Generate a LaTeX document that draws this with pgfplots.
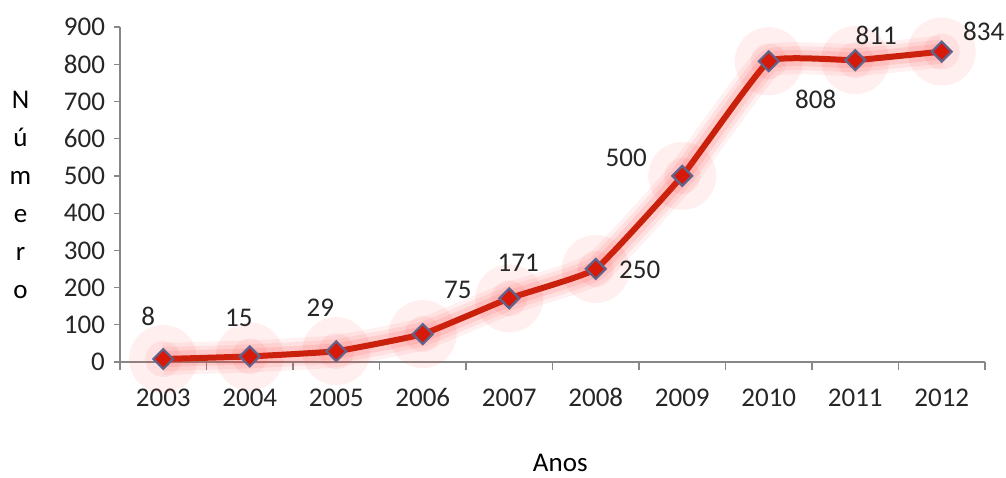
\documentclass[border=0pt]{standalone}
\usepackage{pgfplots}
\pgfplotsset{compat=1.18}
\usepackage{fontspec}
\setmainfont{Carlito}

\definecolor{linered}{RGB}{200,32,10}
\definecolor{markfill}{RGB}{215,25,10}
\definecolor{markedge}{RGB}{95,100,140}
\definecolor{glow}{RGB}{255,50,50}
\definecolor{axgray}{RGB}{135,135,135}

% x, value, label offsets (pt)
\pgfplotstableread{
x y dx dy
0 8 -7.5 21.5
1 15 -5.5 19.5
2 29 -8 21.5
3 75 17.5 22
4 171 4.5 18
5 250 22 -0.5
6 500 -28 9
7 808 23.5 -19
8 811 10.5 12.5
9 834 21 10
}\anos

\begin{document}
\begin{tikzpicture}
\begin{axis}[
  scale only axis,
  width=432.5pt, height=167.5pt,
  at={(0,0)}, anchor=south west,
  xmin=-0.5, xmax=9.5,
  ymin=0, ymax=900,
  axis x line*=bottom, axis y line*=left,
  axis line style={axgray, line width=0.6pt},
  every tick/.style={axgray, line width=0.6pt},
  xtick={0,...,9},
  xticklabels={2003,2004,2005,2006,2007,2008,2009,2010,2011,2012},
  major x tick style={draw=none},
  minor xtick={-0.5,0.5,...,9.5},
  minor tick length=4pt,
  ytick={0,100,...,900},
  major tick length=3pt,
  tick align=outside,
  ticklabel style={font=\fontsize{13.5}{16}\selectfont, text=black!85},
  x tick label style={anchor=center, text height=9pt, text depth=0pt, yshift=-14.5pt},
  y tick label style={xshift=-1pt},
  /pgf/number format/assume math mode=true,
  ylabel={N\\ú\\m\\e\\r\\o},
  ylabel style={rotate=-90, align=center, anchor=center, font=\fontsize{13.5}{19}\selectfont,
    at={(axis description cs:-0.115,0.5)}},
  xlabel={Anos},
  xlabel style={anchor=center, font=\fontsize{13.5}{16}\selectfont,
    at={(axis description cs:0.509,-0.302)}},
  clip=false,
]
% glow
\addplot[glow, opacity=0.07, line width=16pt, smooth, tension=0.2, mark=*,
  mark size=9pt, mark options={draw=none, fill=glow, opacity=0.08}] table[x=x,y=y] {\anos};
\addplot[glow, opacity=0.09, line width=12pt, smooth, tension=0.2, no marks] table[x=x,y=y] {\anos};
\addplot[glow, opacity=0.12, line width=8pt, smooth, tension=0.2, no marks] table[x=x,y=y] {\anos};
% line
\addplot[linered, line width=3pt, smooth, tension=0.2,
  mark=square*, mark size=3.5pt,
  mark options={rotate=45, fill=markfill, draw=markedge, line width=1.1pt},
  visualization depends on={\thisrow{dx} \as \dx},
  visualization depends on={\thisrow{dy} \as \dy},
  nodes near coords,
  nodes near coords style={anchor=center, xshift=\dx pt, yshift=\dy pt,
    font=\fontsize{13.5}{16}\selectfont, text=black!85},
  point meta=explicit,
] table[x=x,y=y,meta=y] {\anos};
\end{axis}
\pgfresetboundingbox
\path (-60pt,-57.5pt) rectangle (443pt,181pt);
\end{tikzpicture}
\end{document}
